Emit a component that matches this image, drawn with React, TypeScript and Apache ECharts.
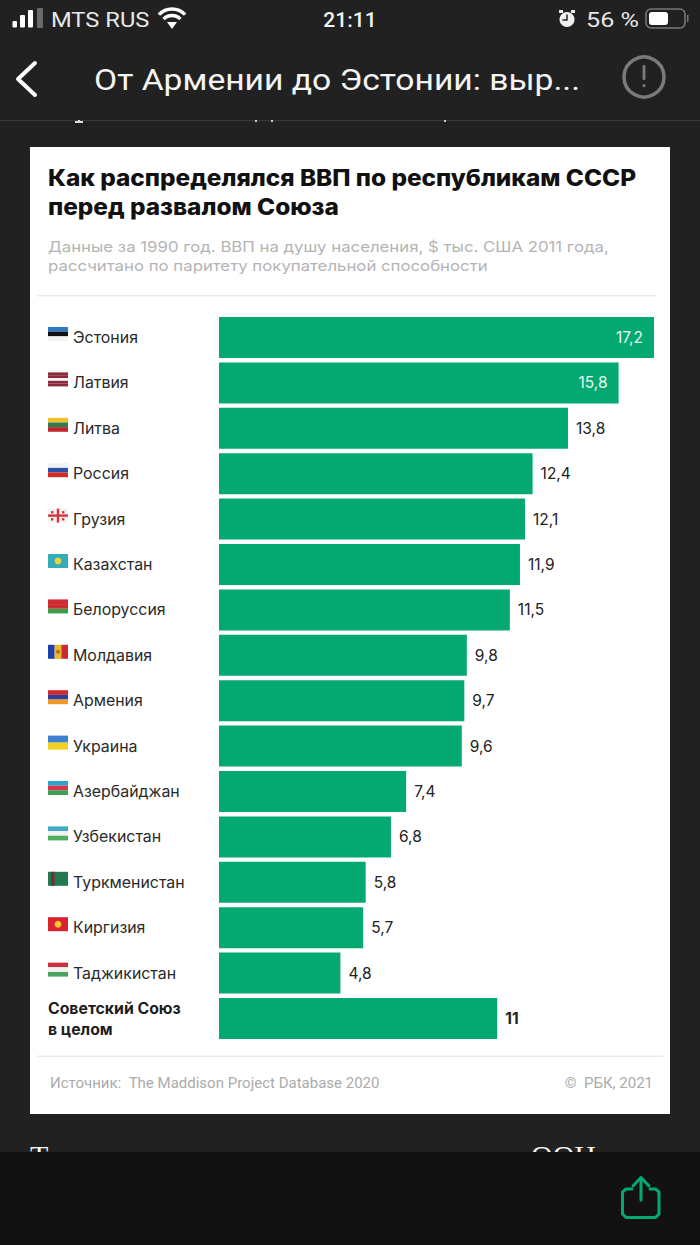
import React, { useEffect, useRef } from "react";
import * as echarts from "echarts";

const categories = ["Эстония","Латвия","Литва","Россия","Грузия","Казахстан","Белоруссия","Молдавия","Армения","Украина","Азербайджан","Узбекистан","Туркменистан","Киргизия","Таджикистан","Советский Союз\nв целом"];
const values = [17.2,15.8,13.8,12.4,12.1,11.9,11.5,9.8,9.7,9.6,7.4,6.8,5.8,5.7,4.8,11];
const insideLabels = [17.2,15.8];
const flagStripes: (string[] | null)[] = [
  ["#2f78c4","#111111","#f2f2f2"],
  ["#8c2a3c","#8c2a3c","#f4f4f4","#8c2a3c","#8c2a3c"],
  ["#f5c02c","#2e7d4f","#c1272d"],
  ["#f2f2f2","#2a4fa8","#d52b1e"],
  ["#f4f4f4"],
  ["#35adb8"],
  ["#cf2b33","#cf2b33","#3d9a47"],
  ["#1f3fa8","#e8b923","#cc2936"],
  ["#d6272e","#2a3f9e","#ef9a22"],
  ["#3f7fd0","#f4d020"],
  ["#2ea3d0","#d9344a","#3d9e55"],
  ["#46a7c4","#f2f2f2","#4eb05a"],
  ["#1f7a52"],
  ["#d9232e"],
  ["#c8323e","#f2f2f2","#49a35a"],
  null,
];
const flagVertical = [7];
const flagEmblems: Record<number, string> = { 5: "#f2d33c", 7: "#a8752c", 13: "#f5c92c", 12: "#7a2c30" };
const title = ["Как распределялся ВВП по республикам СССР","перед развалом Союза"];
const subtitle = ["Данные за 1990 год. ВВП на душу населения, $ тыс. США 2011 года,","рассчитано по паритету покупательной способности"];
const source = "Источник:  The Maddison Project Database 2020";
const copyright = "©  РБК, 2021";
const headerTitle = "От Армении до Эстонии: выр...";

const FONT = "Inter, 'Noto Sans', sans-serif";
const RB = "Roboto, sans-serif";
const GREEN = "#04a971";
const txt = (x: number, y: number, text: string, font: string, fill: string, align = "left", z = 1, scaleX = 1) => ({
  type: "text", z, x, y, scaleX, style: { x: 0, y: 0, text, font, fill, textAlign: align, textVerticalAlign: "middle" },
});
const rect = (x: number, y: number, w: number, h: number, fill: string, z = 1, r = 0) => ({
  type: "rect", z, shape: { x, y, width: w, height: h, r }, style: { fill },
});
const line = (points: number[][], stroke: string, lineWidth: number, z = 1) => ({
  type: "polyline", z, shape: { points }, style: { stroke, lineWidth, fill: "none", lineCap: "round", lineJoin: "round" },
});
const arc = (cx: number, cy: number, r: number) => ({
  type: "arc", z: 1, shape: { cx, cy, r, startAngle: -Math.PI * 0.76, endAngle: -Math.PI * 0.24 },
  style: { stroke: "#fff", lineWidth: 3.4, fill: "none" },
});

export default function App() {
  const ref = useRef<HTMLDivElement>(null);
  useEffect(() => {
    const chart = echarts.init(ref.current!, undefined, { renderer: "svg" });
    chart.setOption({
      animation: false,
      backgroundColor: "#212121",
      grid: { left: 219, top: 314.8, width: 435, height: 726.4, containLabel: false },
      xAxis: { type: "value", min: 0, max: 17.2, show: false },
      yAxis: {
        type: "category", inverse: true, data: categories, z: 5,
        axisLine: { show: false }, axisTick: { show: false },
        axisLabel: {
          margin: 171, align: "left",
          formatter: (v: string) => v.includes("\n")
            ? v.split("\n").map((l) => `{b|${l}}`).join("\n")
            : `{a|${v}}`,
          rich: {
            a: { fontFamily: "Inter", fontSize: 15.9, fontWeight: 400, color: "#2a2a2a", padding: [0, 0, 0, 25] },
            b: { fontFamily: "Inter", fontSize: 15.8, fontWeight: 700, color: "#1c1c1c", lineHeight: 21 },
          },
        },
      },
      series: [
        {
          type: "bar", z: 3, barWidth: 41, silent: true,
          itemStyle: { color: GREEN },
          data: values.map((v) => {
            const inside = insideLabels.includes(v);
            return {
              value: v,
              label: {
                show: true,
                position: inside ? "insideRight" : "right",
                distance: inside ? 11 : 8,
                color: inside ? "#e8f7f1" : "#222",
                fontFamily: "Inter",
                fontSize: 15.5,
                fontWeight: v === 11 ? 700 : 400,
                formatter: (p: any) => String(p.value).replace(".", ","),
              },
            };
          }),
        },
        {
          type: "custom", z: 4, silent: true, clip: false,
          data: categories.map((_, i) => [0, i]),
          renderItem: (_p: any, api: any) => {
            const i = api.value(1);
            const stripes = flagStripes[i];
            if (!stripes) return { type: "group", children: [] };
            const [bx, by] = api.coord([0, i]);
            const x = bx - 171, y = by - 10.5, w = 20, h = 14;
            const vertical = flagVertical.includes(i);
            const children: any[] = stripes.map((c, k) => ({
              type: "rect",
              shape: vertical
                ? { x: x + (w * k) / stripes.length, y, width: w / stripes.length, height: h }
                : { x, y: y + (h * k) / stripes.length, width: w, height: h / stripes.length },
              style: { fill: c },
            }));
            if (i === 4) {
              children.push({ type: "rect", shape: { x: x + 8.8, y, width: 2.4, height: h }, style: { fill: "#d6343c" } });
              children.push({ type: "rect", shape: { x, y: y + 5.8, width: w, height: 2.4 }, style: { fill: "#d6343c" } });
              [[3, 2.5], [14, 2.5], [3, 9.5], [14, 9.5]].forEach(([dx, dy]) =>
                children.push({ type: "rect", shape: { x: x + dx, y: y + dy, width: 2.4, height: 2.4 }, style: { fill: "#d6343c" } }));
            }
            if (i === 12) {
              children.push({ type: "rect", shape: { x: x + 3, y, width: 3.5, height: h }, style: { fill: flagEmblems[12] } });
            } else if (flagEmblems[i]) {
              children.push({ type: "circle", shape: { cx: x + w / 2, cy: y + h / 2, r: i === 7 ? 2 : 3.4 }, style: { fill: flagEmblems[i] } });
            }
            return { type: "group", children };
          },
        },
      ],
      graphic: {
        elements: [
          rect(0, 120, 700, 1, "#3a3a3a"),
          rect(75, 121, 8, 2, "#ddd"), rect(78, 120, 2, 3, "#ddd"),
          rect(255, 120, 2, 2, "#ccc"), rect(271, 120, 2, 2, "#ccc"), rect(444, 120, 2, 2, "#ccc"),
          rect(12.5, 21, 4.5, 6.5, "#fff", 1, 1), rect(20, 15, 5, 12.5, "#fff", 1, 1),
          rect(28, 10, 5, 17.5, "#fff", 1, 1), rect(37, 8, 6, 20, "#6a6a6a", 1, 1),
          txt(51, 19.5, "MTS RUS", `400 21px ${RB}`, "#e8e8e8", "left", 1, 1.13),
          arc(172, 27, 18), arc(172, 27, 11.5),
          { type: "polygon", z: 1, shape: { points: [[167, 22], [177, 22], [172, 29]] }, style: { fill: "#fff" } },
          txt(350, 19.5, "21:11", `500 21px ${RB}`, "#f2f2f2", "center"),
          { type: "circle", z: 1, shape: { cx: 567, cy: 19.5, r: 7.5 }, style: { fill: "#f0f0f0" } },
          line([[567, 15], [567, 20], [563, 20]], "#222", 1.5),
          rect(559, 10, 4, 3, "#f0f0f0"), rect(571, 10, 4, 3, "#f0f0f0"),
          txt(586, 19.5, "56 %", `400 21px ${RB}`, "#e8e8e8", "left", 1, 1.2),
          { type: "rect", z: 1, shape: { x: 646, y: 9, width: 39, height: 19, r: 5 }, style: { fill: "none", stroke: "#777", lineWidth: 1.6 } },
          rect(649, 12, 19, 13, "#fff", 1, 3),
          rect(687, 15, 1.5, 7, "#777"),
          line([[35, 63], [18, 79], [35, 95]], "#fff", 4),
          txt(94, 80, headerTitle, `400 29px ${RB}`, "#f4f4f4", "left", 1, 1.16),
          { type: "circle", z: 1, shape: { cx: 644, cy: 77, r: 20 }, style: { fill: "none", stroke: "#7b7b7b", lineWidth: 3.5 } },
          rect(642.6, 65, 2.8, 15, "#7b7b7b", 1, 1), rect(642.4, 84, 3.2, 3.2, "#7b7b7b", 1, 1.6),
          rect(30, 147, 640, 967, "#ffffff"),
          txt(48, 178, title[0], `800 22.5px ${FONT}`, "#111", "left", 1, 1.083),
          txt(48, 207, title[1], `800 22.5px ${FONT}`, "#111", "left", 1, 1.083),
          txt(48, 247, subtitle[0], `400 14.6px ${FONT}`, "#b4b4b4", "left", 1, 1.15),
          txt(48, 266, subtitle[1], `400 14.6px ${FONT}`, "#b4b4b4", "left", 1, 1.15),
          rect(37, 295, 619, 1.5, "#ebebeb"),
          rect(37, 1055.5, 626, 1.5, "#ebebeb"),
          txt(50, 1083, source, `400 15px ${RB}`, "#ababab"),
          txt(653, 1083, copyright, `400 15px ${RB}`, "#ababab", "right"),
          txt(30, 1155, "Т", "400 30px 'Liberation Serif', serif", "#f4f4f4", "left", 5),
          txt(531, 1155, "ООН", "400 30px 'Liberation Serif', serif", "#f4f4f4", "left", 5),
          rect(0, 1152, 700, 93, "#121212", 6),
          line([[632, 1189], [626, 1189], [622.5, 1192], [622.5, 1214], [626, 1217.5], [655.5, 1217.5], [659, 1214], [659, 1192], [655.5, 1189], [650, 1189]], GREEN, 3, 7),
          line([[641, 1178], [641, 1200]], GREEN, 3, 7),
          line([[633, 1186], [641, 1177.5], [649, 1186]], GREEN, 3, 7),
        ],
      },
    });
    return () => chart.dispose();
  }, []);
  return <div ref={ref} style={{ position: "absolute", left: 0, top: 0, width: 700, height: 1245 }} />;
}
